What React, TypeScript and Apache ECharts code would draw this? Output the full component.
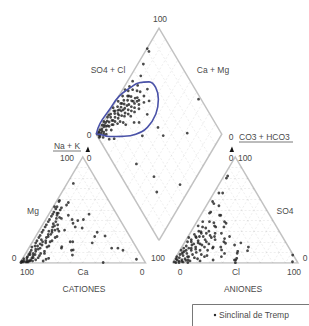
import React, { useEffect, useRef } from "react";
import * as echarts from "echarts";

// ---- data (percentages) ----
const gridTicks = [10, 20, 30, 40, 50, 60, 70, 80, 90];

// Cations: Ca %, Mg % (Na+K = remainder)
const cationCa = [
  20, 39, 33, 46, 38, 34, 29, 39, 34, 24, 28, 49, 54, 60, 53, 50, 20, 15, 12, 5.5, 33.5, 76, 77.5, 22, 19.5, 33, 54.5, 40, 35.6, 47, 39, 46, 39, 56.7, 48, 51.5, 59, 75, 80.6,
  96, 93, 95, 90, 91, 88, 89, 86, 87, 84, 85, 82, 83, 79, 80, 77, 78, 74, 76, 72, 73, 70, 71, 67, 68, 64, 66, 62, 63, 60, 61, 57, 58, 55, 56, 52, 53, 50, 51, 48, 49, 46, 46, 43, 44, 41,
  83, 75, 69, 64, 58, 54, 60, 66, 71, 79, 87, 81, 92, 94, 98, 97, 95, 93, 91, 89, 86, 99, 97.5, 92, 88, 85, 81, 78, 75, 72, 69, 65, 62, 59, 55, 52, 47,
];
const cationMg = [
  75, 59, 57, 53, 41, 40, 41, 34, 33, 29, 25, 31, 30, 14, 12, 20, 14, 14, 12, 3.5, 0.5, 9, 3.5, 46, 25.5, 19, 7.5, 58, 54.7, 47, 45, 42, 37.5, 31, 20, 12.3, 15.4, 4.4, 1.9,
  2, 3, 4, 3, 6, 5, 8, 7, 10, 8, 12, 11, 15, 13, 16, 14, 19, 17, 21, 20, 24, 19, 26, 24, 29, 27, 31, 30, 34, 29, 36, 34, 39, 37, 41, 39, 44, 42, 46, 45, 48, 47, 51, 50, 53, 52,
  5, 11, 16, 21, 25, 32, 24, 20, 15, 9, 5, 7, 2, 1, 1, 1, 1, 1, 2, 2, 3, 0.5, 2, 5, 8, 9, 13, 16, 18, 22, 21, 25, 27, 31, 35, 36, 43,
];

// Anions: Cl %, SO4 % (CO3 + HCO3 = remainder)
const anionCl = [
  3, 3, 4, 7, 5, 10, 6.5, 15, 10, 22, 24, 45, 53, 46.5, 49, 92, 33, 31, 7, 9, 25, 54, 95, 47, 49, 30, 33, 33, 3, 6, 16, 4.6, 24, 17.5, 8, 21, 31, 41, 25, 37, 22.5, 31, 36, 48, 50,
  1, 2, 4, 3, 6, 5, 8, 2, 7, 10, 4, 9, 12, 6, 11, 14, 3, 8, 13, 16, 5, 10, 15, 18, 7, 12, 17, 20, 9, 14, 4, 19, 22, 11, 15, 1, 2, 6, 10, 3, 16, 20, 23, 25, 13, 18, 24, 8, 5, 14, 12, 21,
  1, 3, 2, 5, 7, 9, 12, 4, 6, 11, 1, 8, 15, 17, 19, 13, 2.5, 0.5, 6.5, 3.5, 9.5,
];
const anionSO4 = [
  80, 82, 66, 66, 56, 54, 48, 45, 39, 39, 34, 19, 15, 11, 4.4, 7.5, 25, 15, 34, 25, 28, 11.6, 1.2, 9.2, 2.8, 23, 18.6, 12.3, 58, 47, 45, 39, 37.5, 34, 29.5, 25, 20, 17, 14, 9, 6, 2.8, 6, 2.8, 0.3,
  1, 3, 2, 5, 3, 7, 4, 8, 9, 6, 11, 12, 8, 14, 15, 10, 16, 18, 18, 12, 20, 21, 22, 15, 24, 25, 26, 18, 28, 30, 27, 8, 12, 3, 5, 12, 20, 30, 33, 35, 35, 28, 22, 15, 2, 4, 7, 1, 0.5, 38, 0.5, 2,
  4, 9, 14, 12, 17, 6, 13, 22, 25, 19, 24, 14, 17, 20, 24, 28, 0.5, 6, 1.5, 10, 2.5,
];

// Diamond: Ca + Mg %, SO4 + Cl %
const diamondCaMg = [
  99.7, 97, 95.5, 92, 96, 96, 80.5, 80, 84.5, 73.6, 68.7, 71.4, 75.4, 81, 54, 46, 28, 62.5, 35, 54, 34, 24.5, 9.5, 87.3, 83.6, 93, 96,
  99, 98.5, 97, 99, 96.5, 98, 95, 97.5, 99.5, 94, 96, 98, 93.5, 95.5, 97.5, 99, 92, 94, 96.5, 98, 91, 93, 95, 97, 90, 92.5, 94, 96, 88.5, 91, 93, 95, 87, 89.5, 92, 94, 86, 88, 91, 93, 85, 87.5, 90, 95, 84, 86, 92, 83, 86, 82, 88, 81, 84, 80, 78, 90, 85, 82, 77,
  88, 90, 92, 100, 99, 99, 98, 97, 98, 94, 96, 98, 93, 96, 90, 94, 87, 91, 95, 97, 99, 89, 86, 83, 92, 80, 84, 91, 93,
];
const diamondSO4Cl = [
  81, 81, 70.6, 63, 54, 49, 62, 56, 50, 57.8, 50, 39.7, 35.7, 28, 52.4, 52.7, 73, 36, 98, 18, 26, 21, 43, 8, 12.2, 4, 1,
  1, 3, 2, 5, 4.5, 7, 7, 9.5, 9, 10, 11.5, 13, 14, 16, 15, 17, 17, 19, 19.5, 21, 21, 23, 24.5, 25, 25, 27, 28.5, 30, 29, 31, 32.5, 34, 33, 35, 36.5, 38, 37, 40, 41, 43, 41, 44, 45.5, 46, 45, 48, 50, 39, 31, 43, 53, 36, 27, 41, 46, 56, 55, 50, 53,
  22, 14, 8, 12, 19, 26, 33, 39, 44, 6, 2, 11, 20, 26, 33, 35, 25, 18, 13, 6, 3, 38, 45, 48, 44, 48, 35, 27, 30,
];

// Hand-drawn outline around the main group (Ca + Mg %, SO4 + Cl %)
const loopCaMg = [100, 102, 101, 99.7, 94.5, 90, 82.6, 74.6, 67, 62, 62.5, 68.5, 78, 88.6, 99, 100];
const loopSO4Cl = [0, 8, 22, 36, 49.6, 58.5, 66.7, 69.4, 66, 57, 44, 31.5, 20, 9.2, 1, 0];

const legendName = "Sinclinal de Tremp";

// ---- geometry ----
const S = Math.sqrt(3) / 2;
const GAP = 0.214;
const cat = (ca: number, mg: number) => {
  const nak = 100 - ca - mg;
  return [(nak + mg / 2) / 100, (mg / 100) * S];
};
const ani = (cl: number, so4: number) => [1 + GAP + (cl + so4 / 2) / 100, (so4 / 100) * S];
const dia = (u: number, v: number) => [1 + GAP / 2 + (v - u) / 200, GAP * S + ((u + v) * S) / 100];

function triGrid(f: (a: number, b: number) => number[]) {
  const segs: any[] = [];
  gridTicks.forEach((t) => {
    segs.push({ coords: [f(100 - t, t), f(0, t)] });
    segs.push({ coords: [f(t, 100 - t), f(t, 0)] });
    segs.push({ coords: [f(100 - t, 0), f(0, 100 - t)] });
  });
  return segs;
}
function diaGrid() {
  const segs: any[] = [];
  gridTicks.forEach((t) => {
    segs.push({ coords: [dia(t, 0), dia(t, 100)] });
    segs.push({ coords: [dia(0, t), dia(100, t)] });
  });
  return segs;
}

export default function App() {
  const ref = useRef<HTMLDivElement>(null);
  useEffect(() => {
    if (!ref.current) return;
    const chart = echarts.init(ref.current, null, { renderer: "svg" });
    const font = "8.5px 'Liberation Sans', Arial, sans-serif";
    const txt = (text: string, x: number, y: number, align = "center") => ({
      type: "text",
      x,
      y,
      style: { text, fill: "#4a4a4a", font, textAlign: align, textVerticalAlign: "middle", align, verticalAlign: "middle" },
    });
    const gridStyle = { color: "#c6c6c6", width: 0.6, type: [2, 2] as any };
    const outlineStyle = { color: "#858585", width: 1.5 };
    const ptStyle = { color: "#1e1e1e" };
    chart.setOption({
      animation: false,
      backgroundColor: "#fff",
      grid: { left: 20, right: 11, top: 18, bottom: 63, outerBoundsMode: "none" },
      xAxis: { type: "value", min: 0, max: 2 + GAP, show: false },
      yAxis: { type: "value", min: 0, max: 2, show: false },
      series: [
        { type: "lines", coordinateSystem: "cartesian2d", data: triGrid(cat), lineStyle: gridStyle, silent: true },
        { type: "lines", coordinateSystem: "cartesian2d", data: triGrid(ani), lineStyle: gridStyle, silent: true },
        { type: "lines", coordinateSystem: "cartesian2d", data: diaGrid(), lineStyle: gridStyle, silent: true },
        {
          type: "lines",
          coordinateSystem: "cartesian2d",
          polyline: true,
          lineStyle: outlineStyle,
          silent: true,
          data: [
            { coords: [cat(100, 0), cat(0, 0), cat(0, 100), cat(100, 0)] },
            { coords: [ani(0, 0), ani(100, 0), ani(0, 100), ani(0, 0)] },
            { coords: [dia(0, 0), dia(100, 0), dia(100, 100), dia(0, 100), dia(0, 0)] },
          ],
        },
        {
          type: "scatter",
          name: legendName,
          symbolSize: 2.8,
          itemStyle: ptStyle,
          data: cationCa.map((c, i) => cat(c, cationMg[i])),
        },
        {
          type: "scatter",
          name: legendName,
          symbolSize: 2.8,
          itemStyle: ptStyle,
          data: anionCl.map((c, i) => ani(c, anionSO4[i])),
        },
        {
          type: "scatter",
          name: legendName,
          symbolSize: 2.8,
          itemStyle: ptStyle,
          data: diamondCaMg.map((u, i) => dia(u, diamondSO4Cl[i])),
        },
        {
          type: "line",
          smooth: 0.45,
          symbol: "none",
          lineStyle: { color: "#4a52a8", width: 1.6 },
          data: loopCaMg.map((u, i) => dia(u, loopSO4Cl[i])),
        },
      ],
      graphic: [
        txt("100", 160, 19),
        txt("SO4 + Cl", 108, 70),
        txt("Ca + Mg", 213, 70),
        txt("0", 89, 135),
        txt("Na + K", 67, 146),
        { type: "line", shape: { x1: 53, y1: 151, x2: 81, y2: 151 }, style: { stroke: "#555", lineWidth: 0.8 } },
        { type: "polygon", shape: { points: [[85.5, 152], [90, 152], [88, 146.5]] }, style: { fill: "#111" } },
        txt("100", 67, 158),
        txt("0", 89, 158),
        txt("0", 231, 137),
        txt("CO3 + HCO3", 239, 137, "left"),
        { type: "line", shape: { x1: 239, y1: 142, x2: 293, y2: 142 }, style: { stroke: "#555", lineWidth: 0.8 } },
        { type: "polygon", shape: { points: [[229.5, 152], [234, 152], [232, 146.5]] }, style: { fill: "#111" } },
        txt("0", 231, 158),
        txt("100", 245, 158),
        txt("Mg", 33, 211),
        txt("SO4", 285, 211),
        txt("0", 14, 258),
        txt("100", 158, 258),
        txt("0", 305, 258),
        txt("100", 27, 272),
        txt("Ca", 83, 272),
        txt("0", 142, 272),
        txt("0", 180, 272),
        txt("Cl", 236, 272),
        txt("100", 294, 272),
        txt("CATIONES", 84, 289),
        txt("ANIONES", 243, 289),
        { type: "rect", shape: { x: 192.5, y: 304.5, width: 120, height: 30 }, style: { fill: "none", stroke: "#555", lineWidth: 0.8 } },
        { type: "circle", shape: { cx: 215, cy: 315, r: 1.2 }, style: { fill: "#1e1e1e" } },
        txt(legendName, 219, 315, "left"),
      ],
    });
    return () => chart.dispose();
  }, []);
  return <div ref={ref} style={{ position: "absolute", left: 0, top: 0, width: 309, height: 326 }} />;
}
